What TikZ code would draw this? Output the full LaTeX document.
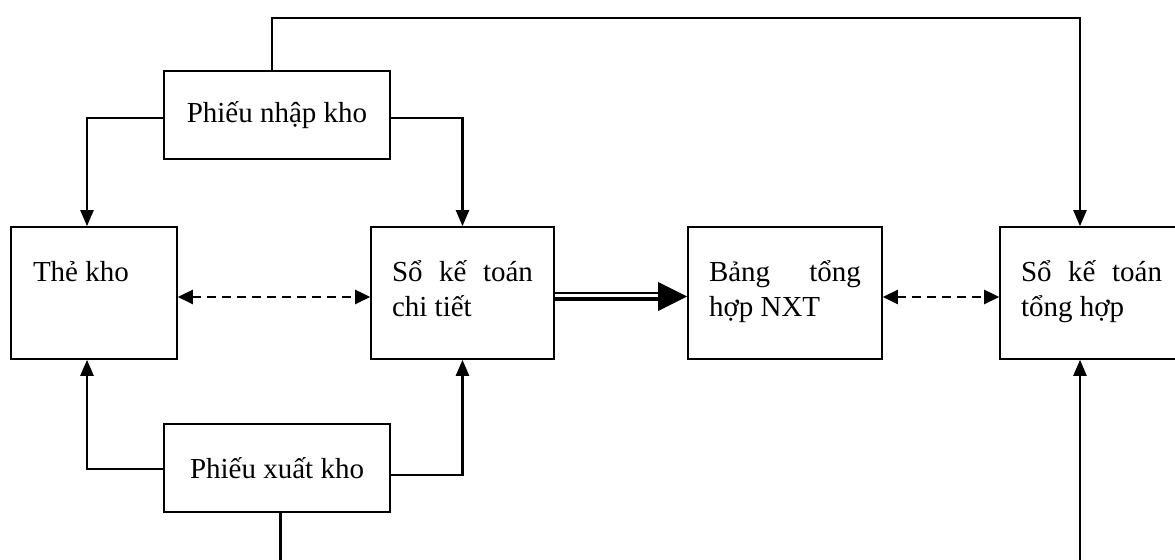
\documentclass[tikz,border=0pt]{standalone}
\usepackage{fontspec}
\setmainfont{Liberation Serif}
\usetikzlibrary{calc}
\usetikzlibrary{positioning}
\usetikzlibrary{arrows.meta}

\newcommand{\chuso}{\fontsize{14.5pt}{17.5pt}\selectfont\hyphenpenalty=10000\relax\tolerance=10000\relax}

\tikzset{
  chu/.style={font=\chuso},
  sobox/.style={chu, draw, line width=0.8pt, align=justify, inner ysep=0pt,
                text height=27.5pt, text depth=38.5pt, inner xsep=10.5pt},
  phieu/.style={chu, draw, line width=0.8pt, minimum width=113pt, minimum height=44pt},
  muiten/.style={line width=1.1pt, -{Stealth[inset=0pt, length=8pt, width=6.5pt]}},
  gachnoi/.style={line width=1.3pt, dash pattern=on 4.5pt off 3pt,
                  {Stealth[inset=0pt, length=7.5pt, width=7pt]}-{Stealth[inset=0pt, length=7.5pt, width=7pt]}}
}

\begin{document}
\begin{tikzpicture}[x=0.5pt, y=-0.5pt]

\useasboundingbox (0,0) rectangle (1175,560);

\newcommand{\hangY}{293}  % tâm hàng các sổ
\newcommand{\trenY}{18}   % đường nối phía trên
\newcommand{\duoiY}{562}  % đường nối phía dưới

% cac chung tu
\node[phieu] (pnk) at (277,115) {Phiếu nhập kho};
\node[phieu] (pxk) at (277,468) {Phiếu xuất kho};

% cac so
\node[sobox, text width=61pt, inner xsep=11pt] (the) at (94,\hangY) {Thẻ kho};
\node[sobox, text width=70.5pt] (ctiet) at (462.5,\hangY) {Sổ kế toán chi tiết};
\node[sobox, text width=76pt] (bang) at (785,\hangY) {Bảng tổng hợp NXT};
\node[sobox, text width=70.5pt] (tonghop) at (1091.5,\hangY) {Sổ kế toán tổng hợp};

\coordinate (trenA) at (272,\trenY);
\coordinate (trenB) at (1080,\trenY);
\coordinate (dayXuat) at (280.5,\duoiY);
\coordinate (dayTH) at (1080,\duoiY);

\draw[muiten] ([yshift=-1.5pt]pnk.west) -| ([xshift=-3.5pt]the.north);
\draw[muiten] ([yshift=-1.5pt]pnk.east) -| (ctiet.north);
\draw[muiten] ([yshift=-0.5pt]pxk.west) -| ([xshift=-3.5pt]the.south);
\draw[muiten] ([yshift=-3.5pt]pxk.east) -| (ctiet.south);

\draw[muiten] (pnk.north -| trenA) -- (trenA) -- (trenB) -- (tonghop.north -| trenB);
\draw[line width=1.1pt] (pxk.south -| dayXuat) -- (dayXuat);
\draw[muiten] (dayTH) -- (tonghop.south -| dayTH);

\draw[gachnoi] ([yshift=-2pt]the.east) -- ([yshift=-2pt]ctiet.west);
\draw[gachnoi] ([yshift=-2pt]bang.east) -- ([yshift=-2pt]tonghop.west);

% mui ten kep
\draw[line width=0.8pt] (ctiet.east) -- ([xshift=-14pt]bang.west);
\draw[line width=2.2pt] ([yshift=-3pt]ctiet.east) -- ([xshift=-14pt,yshift=-3pt]bang.west);
\fill ([yshift=-1.75pt]bang.west) -- ++(-14.5pt,7.25pt) -- ++(0,-14.5pt) -- cycle;

\end{tikzpicture}
\end{document}
